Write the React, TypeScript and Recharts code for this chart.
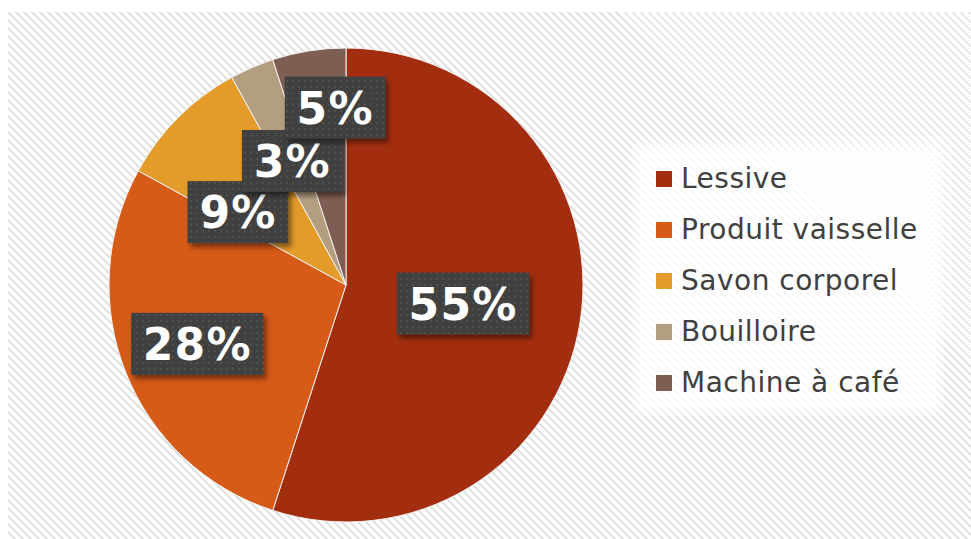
import { PieChart, Pie, Cell, Legend } from "recharts";

const CATEGORIES = ["Lessive", "Produit vaisselle", "Savon corporel", "Bouilloire", "Machine à café"];
const SHARES = [55, 28, 9, 3, 5];

const COLORS = ["#a32e0f", "#d65a18", "#e39b29", "#b39f80", "#7e5e53"];
// label distance from centre (fraction of radius) and a small clockwise turn, per slice
const LABEL_PLACE = [
  { r: 0.5, turn: 0 },
  { r: 0.675, turn: 0 },
  { r: 0.55, turn: -11 },
  { r: 0.57, turn: 0 },
  { r: 0.75, turn: 5.5 },
];

const RAD = Math.PI / 180;
const FONT = "'DejaVu Sans', Verdana, sans-serif";

const data = CATEGORIES.map((name, i) => ({ name, value: SHARES[i] }));

const renderLabel = (props: any) => {
  const { cx, cy, midAngle, outerRadius, index, percent } = props;
  const place = LABEL_PLACE[index];
  const angle = midAngle - place.turn;
  const R = outerRadius * place.r;
  const x = cx + R * Math.cos(-angle * RAD);
  const y = cy + R * Math.sin(-angle * RAD);
  const text = `${Math.round(percent * 100)}%`;
  const n = text.length;
  const w = 44 * (0.696 * (n - 1) + 1.002) + n + 24;
  return (
    <g key={`lbl-${index}`}>
      <rect x={x - w / 2} y={y - 31} width={w} height={62} fill="url(#lblDots)" filter="url(#lblShadow)" />
      <text
        x={x}
        y={y + 16}
        textAnchor="middle"
        fill="#ffffff"
        fontFamily={FONT}
        fontWeight="bold"
        fontSize={44}
        letterSpacing={1.2}
      >
        {text}
      </text>
    </g>
  );
};

const renderLegend = () => (
  <div
    style={{
      width: 295,
      height: 257,
      boxSizing: "border-box",
      paddingTop: 3,
      background: "rgba(255,255,255,0.82)",
      boxShadow: "0 0 10px 6px rgba(255,255,255,0.8)",
    }}
  >
    {data.map((d, i) => (
      <div key={d.name} style={{ display: "flex", alignItems: "center", height: 51 }}>
        <span
          style={{ width: 16, height: 16, background: COLORS[i], marginLeft: 16, marginRight: 9, flex: "none" }}
        />
        <span style={{ fontFamily: FONT, fontSize: 28, letterSpacing: 0.5, color: "#404040", whiteSpace: "nowrap" }}>
          {d.name}
        </span>
      </div>
    ))}
  </div>
);

export default function App() {
  return (
    <div
      style={{
        position: "fixed",
        left: 8,
        top: 12,
        width: 963,
        height: 527,
        background:
          "repeating-linear-gradient(45deg, #ffffff 0px, #ffffff 3.8px, #e2e2e2 3.8px, #e2e2e2 5.66px)",
      }}
    >
      <svg width={0} height={0} style={{ position: "absolute" }}>
        <defs>
          <pattern id="lblDots" patternUnits="userSpaceOnUse" width={6} height={6}>
            <rect width={6} height={6} fill="#404040" />
            <rect x={2} y={2} width={2} height={2} fill="#505050" />
          </pattern>
          <filter id="lblShadow" x="-20%" y="-20%" width="150%" height="160%">
            <feDropShadow dx={3} dy={4} stdDeviation={2.5} floodColor="#000" floodOpacity={0.45} />
          </filter>
        </defs>
      </svg>
      <PieChart width={963} height={527} margin={{ top: 0, right: 0, bottom: 0, left: 0 }}>
        <Pie
          data={data}
          dataKey="value"
          nameKey="name"
          cx={338}
          cy={273}
          outerRadius={237}
          startAngle={90}
          endAngle={-270}
          stroke="#f2f2f2"
          strokeWidth={1}
          label={renderLabel}
          labelLine={false}
          isAnimationActive={false}
        >
          {data.map((d, i) => (
            <Cell key={d.name} fill={COLORS[i]} />
          ))}
        </Pie>
        <Legend
          layout="vertical"
          align="right"
          verticalAlign="top"
          content={renderLegend}
          wrapperStyle={{ left: 632, top: 138, width: 295, height: 257 }}
        />
      </PieChart>
    </div>
  );
}
